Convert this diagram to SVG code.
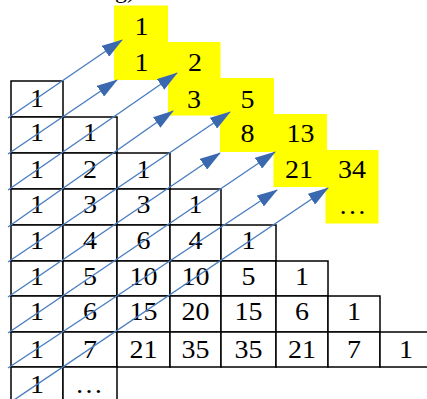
<svg xmlns="http://www.w3.org/2000/svg" width="427" height="399" viewBox="0 0 427 399">
<style>
.cell rect{fill:#fff;stroke:#000;stroke-width:1.5}
.t{font-family:"Liberation Serif","Times New Roman",serif;font-size:25px;text-anchor:middle;fill:#000;transform-box:fill-box;transform-origin:center;transform:scaleX(1.12)}
.fib rect{fill:#ffff00}
.arrow{stroke:#4a7dc0;stroke-width:1.4;fill:none;marker-end:url(#ah)}
.cap{font-family:"Liberation Serif","Times New Roman",serif;font-size:24px;fill:#000}
</style>
<defs>
<marker id="ah" markerUnits="userSpaceOnUse" markerWidth="21" markerHeight="13" refX="20" refY="6.5" orient="auto" viewBox="0 0 21 13">
<path d="M0,0 L21,6.5 L0,13 Z" fill="#3a69b0"/>
</marker>
</defs>
<rect width="427" height="399" fill="#fff"/>
<text class="cap" x="115" y="-2.5">g)</text>
<g id="r0c0" class="cell"><rect x="11" y="81" width="52" height="36"/><text class="t" x="37" y="107.5">1</text></g>
<g id="r1c0" class="cell"><rect x="11" y="117" width="52" height="36"/><text class="t" x="37" y="141.5">1</text></g>
<g id="r1c1" class="cell"><rect x="63" y="117" width="54" height="36"/><text class="t" x="90" y="141.5">1</text></g>
<g id="r2c0" class="cell"><rect x="11" y="153" width="52" height="36"/><text class="t" x="37" y="178">1</text></g>
<g id="r2c1" class="cell"><rect x="63" y="153" width="54" height="36"/><text class="t" x="90" y="178">2</text></g>
<g id="r2c2" class="cell"><rect x="117" y="153" width="53" height="36"/><text class="t" x="143.5" y="178">1</text></g>
<g id="r3c0" class="cell"><rect x="11" y="189" width="52" height="36"/><text class="t" x="37" y="213">1</text></g>
<g id="r3c1" class="cell"><rect x="63" y="189" width="54" height="36"/><text class="t" x="90" y="213">3</text></g>
<g id="r3c2" class="cell"><rect x="117" y="189" width="53" height="36"/><text class="t" x="143.5" y="213">3</text></g>
<g id="r3c3" class="cell"><rect x="170" y="189" width="51" height="36"/><text class="t" x="195.5" y="213">1</text></g>
<g id="r4c0" class="cell"><rect x="11" y="225" width="52" height="36"/><text class="t" x="37" y="249">1</text></g>
<g id="r4c1" class="cell"><rect x="63" y="225" width="54" height="36"/><text class="t" x="90" y="249">4</text></g>
<g id="r4c2" class="cell"><rect x="117" y="225" width="53" height="36"/><text class="t" x="143.5" y="249">6</text></g>
<g id="r4c3" class="cell"><rect x="170" y="225" width="51" height="36"/><text class="t" x="195.5" y="249">4</text></g>
<g id="r4c4" class="cell"><rect x="221" y="225" width="55" height="36"/><text class="t" x="248.5" y="249">1</text></g>
<g id="r5c0" class="cell"><rect x="11" y="261" width="52" height="35"/><text class="t" x="37" y="285">1</text></g>
<g id="r5c1" class="cell"><rect x="63" y="261" width="54" height="35"/><text class="t" x="90" y="285">5</text></g>
<g id="r5c2" class="cell"><rect x="117" y="261" width="53" height="35"/><text class="t" x="143.5" y="285">10</text></g>
<g id="r5c3" class="cell"><rect x="170" y="261" width="51" height="35"/><text class="t" x="195.5" y="285">10</text></g>
<g id="r5c4" class="cell"><rect x="221" y="261" width="55" height="35"/><text class="t" x="248.5" y="285">5</text></g>
<g id="r5c5" class="cell"><rect x="276" y="261" width="52" height="35"/><text class="t" x="302" y="285">1</text></g>
<g id="r6c0" class="cell"><rect x="11" y="296" width="52" height="36"/><text class="t" x="37" y="320.5">1</text></g>
<g id="r6c1" class="cell"><rect x="63" y="296" width="54" height="36"/><text class="t" x="90" y="320.5">6</text></g>
<g id="r6c2" class="cell"><rect x="117" y="296" width="53" height="36"/><text class="t" x="143.5" y="320.5">15</text></g>
<g id="r6c3" class="cell"><rect x="170" y="296" width="51" height="36"/><text class="t" x="195.5" y="320.5">20</text></g>
<g id="r6c4" class="cell"><rect x="221" y="296" width="55" height="36"/><text class="t" x="248.5" y="320.5">15</text></g>
<g id="r6c5" class="cell"><rect x="276" y="296" width="52" height="36"/><text class="t" x="302" y="320.5">6</text></g>
<g id="r6c6" class="cell"><rect x="328" y="296" width="52" height="36"/><text class="t" x="354" y="320.5">1</text></g>
<g id="r7c0" class="cell"><rect x="11" y="332" width="52" height="35"/><text class="t" x="37" y="358">1</text></g>
<g id="r7c1" class="cell"><rect x="63" y="332" width="54" height="35"/><text class="t" x="90" y="358">7</text></g>
<g id="r7c2" class="cell"><rect x="117" y="332" width="53" height="35"/><text class="t" x="143.5" y="358">21</text></g>
<g id="r7c3" class="cell"><rect x="170" y="332" width="51" height="35"/><text class="t" x="195.5" y="358">35</text></g>
<g id="r7c4" class="cell"><rect x="221" y="332" width="55" height="35"/><text class="t" x="248.5" y="358">35</text></g>
<g id="r7c5" class="cell"><rect x="276" y="332" width="52" height="35"/><text class="t" x="302" y="358">21</text></g>
<g id="r7c6" class="cell"><rect x="328" y="332" width="52" height="35"/><text class="t" x="354" y="358">7</text></g>
<g id="r7c7" class="cell"><rect x="380" y="332" width="52" height="35"/><text class="t" x="406" y="358">1</text></g>
<g id="r8c0" class="cell"><rect x="11" y="367" width="52" height="45"/><text class="t" x="37" y="393.5">1</text></g>
<g id="r8c1" class="cell"><rect x="63" y="367" width="54" height="45"/><text class="t" x="89" y="393.5">…</text></g>
<g id="fib1" class="fib"><rect x="114" y="5.5" width="54" height="74.5"/><text class="t" x="141.5" y="35.5">1</text><text class="t" x="141.5" y="71.5">1</text></g>
<g id="fib2" class="fib"><rect x="168" y="42" width="52.5" height="73.5"/><text class="t" x="195" y="71.5">2</text><text class="t" x="194" y="108">3</text></g>
<g id="fib3" class="fib"><rect x="220" y="78" width="54" height="74"/><text class="t" x="247.5" y="108">5</text><text class="t" x="247.5" y="142">8</text></g>
<g id="fib4" class="fib"><rect x="273.5" y="114" width="53.5" height="73"/><text class="t" x="300.5" y="142">13</text><text class="t" x="299" y="178">21</text></g>
<g id="fib5" class="fib"><rect x="325.5" y="150" width="53" height="73.5"/><text class="t" x="352" y="178">34</text><text class="t" x="352.5" y="214.5">…</text></g>
<g id="connectors">
<line class="arrow" x1="8" y1="118" x2="122" y2="40"/>
<line class="arrow" x1="8" y1="154" x2="117" y2="80"/>
<line class="arrow" x1="8" y1="190" x2="177" y2="73"/>
<line class="arrow" x1="8" y1="227" x2="173" y2="111"/>
<line class="arrow" x1="8" y1="262" x2="230" y2="112"/>
<line class="arrow" x1="8" y1="297" x2="220" y2="153"/>
<line class="arrow" x1="8" y1="333" x2="275" y2="152"/>
<line class="arrow" x1="8" y1="368" x2="277" y2="190"/>
<line class="arrow" x1="8" y1="404" x2="328" y2="188"/>
</g>
</svg>
